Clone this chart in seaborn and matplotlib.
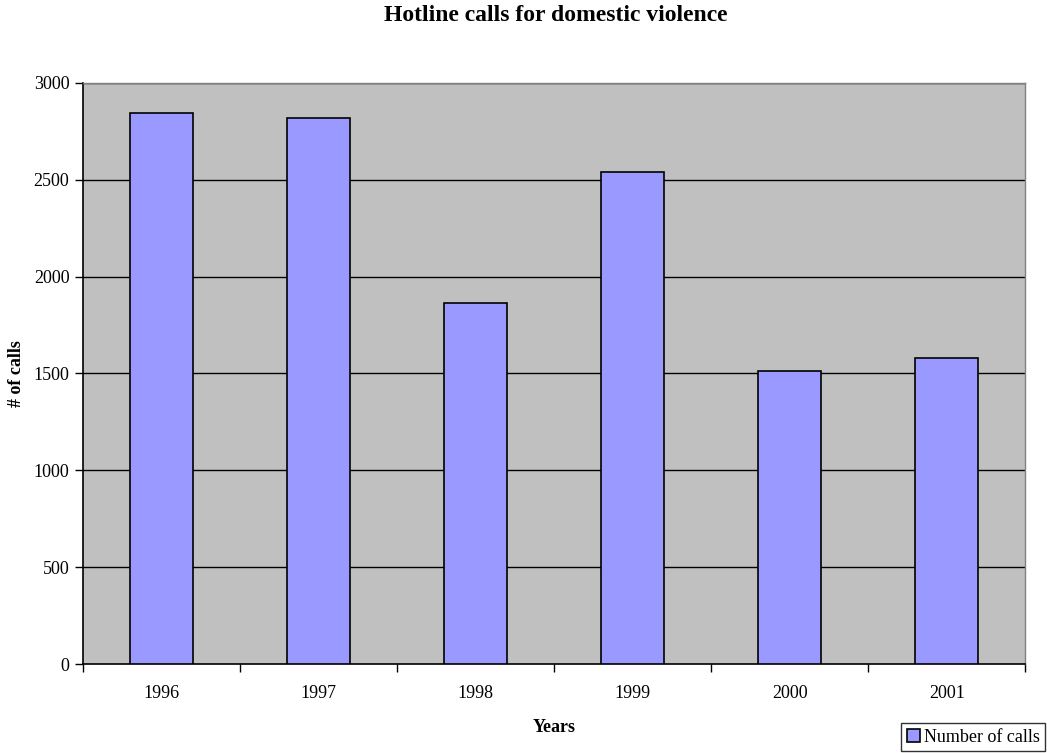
import pandas as pd
import seaborn as sns
import matplotlib.pyplot as plt
from matplotlib.ticker import FixedLocator

years = ["1996", "1997", "1998", "1999", "2000", "2001"]
calls = [2845, 2817, 1862, 2538, 1512, 1578]
yticks = [0, 500, 1000, 1500, 2000, 2500, 3000]

df = pd.DataFrame({"Years": years, "calls": calls})

sns.set_theme(style="white")
plt.rcParams["font.family"] = ["Liberation Serif", "DejaVu Serif"]
plt.rcParams["text.color"] = "black"
plt.rcParams["axes.labelcolor"] = "black"

fig = plt.figure(figsize=(10.47, 7.53), dpi=100)
ax = fig.add_axes([0.0796, 0.1178, 0.8996, 0.7724])
ax.set_facecolor("#C0C0C0")

sns.barplot(data=df, x="Years", y="calls", ax=ax, color="#9999FF",
            saturation=1, width=0.4, edgecolor="black", linewidth=1.2,
            label="Number of calls", zorder=3)
if ax.get_legend() is not None:
    ax.get_legend().remove()

ax.set_ylim(0, 3000)
ax.set_xlim(-0.5, len(years) - 0.5)
ax.set_yticks(yticks)
for y in yticks[1:]:
    ax.axhline(y, color="black", linewidth=1, zorder=1)

ax.xaxis.set_minor_locator(FixedLocator([i - 0.5 for i in range(len(years) + 1)]))
ax.tick_params(axis="x", which="major", bottom=True, length=0, pad=15,
               labelsize=13, labelcolor="black")
ax.tick_params(axis="x", which="minor", bottom=True, length=6, width=1,
               color="black", direction="out")
ax.tick_params(axis="y", which="major", left=True, length=6, width=1,
               color="black", direction="out", labelsize=13, pad=4,
               labelcolor="black")

for side in ["left", "bottom"]:
    ax.spines[side].set_color("black")
    ax.spines[side].set_linewidth(1.2)
for side in ["top", "right"]:
    ax.spines[side].set_color("#808080")
    ax.spines[side].set_linewidth(1)

ax.set_xlabel("Years", fontsize=13, fontweight="bold", labelpad=12, color="black")
ax.set_ylabel("# of calls", fontsize=13, fontweight="bold", labelpad=6, color="black")
fig.suptitle("Hotline calls for domestic violence", fontsize=17,
             fontweight="bold", y=0.993, x=0.531, color="black")

handles, labels = ax.get_legend_handles_labels()
leg = fig.legend(handles, labels, loc="lower right", bbox_to_anchor=(1.0, 0.0),
                 fontsize=13, frameon=True, fancybox=False, edgecolor="black",
                 handlelength=0.75, handleheight=0.75, handletextpad=0.2,
                 borderpad=0.3, borderaxespad=0.1)
leg.get_frame().set_linewidth(1)

fig.savefig("out.png", dpi=100, facecolor="white")
